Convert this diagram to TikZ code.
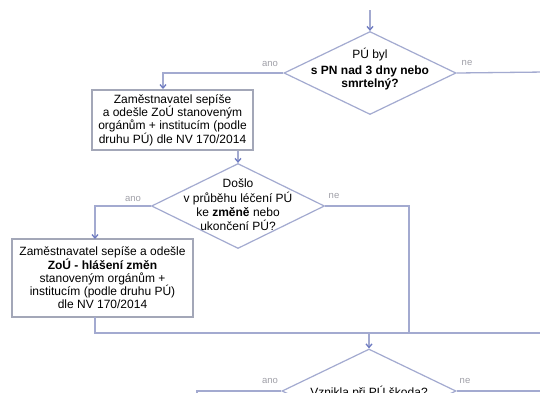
\documentclass[tikz,border=0pt]{standalone}
\usepackage{fontspec}
\setmainfont{Liberation Sans}
\usetikzlibrary{shapes.geometric,arrows.meta}
\definecolor{lineC}{HTML}{A3AAD0}
\definecolor{boxC}{HTML}{A3A7B8}
\definecolor{tipC}{HTML}{6D7AC2}
\definecolor{lblC}{HTML}{A0A0A8}
\begin{document}
\begin{tikzpicture}[x=1pt,y=-1pt,
  conn/.style={draw=lineC, line width=1.3pt},
  arr/.style={conn, -{Straight Barb[length=3.5pt,width=6pt,color=tipC]}},
  dia/.style={diamond, draw=lineC, line width=1.2pt, inner sep=0pt},
  pbox/.style={rectangle, draw=boxC, line width=1.2pt, inner sep=0pt, align=center},
  txt/.style={align=center, inner sep=0pt},
  lbl/.style={font=\fontsize{9.5}{10}\selectfont, text=lblC, inner sep=0pt}]
\useasboundingbox (0,0) rectangle (540,392);
\clip (0,0) rectangle (540,392);
\fill[white] (0,0) rectangle (540,392);

% decision 1
\node[dia, minimum width=172pt, minimum height=83pt] (d1) at (370,73) {};
\node[txt, font=\fontsize{12}{12.5}\selectfont] (t1) at (370,69)
  {PÚ byl\\[4pt] \textbf{s PN nad 3 dny nebo}\\ \textbf{smrtelný?}};

% box 1
\node[pbox, minimum width=161pt, minimum height=60pt, font=\fontsize{12}{12.4}\selectfont] (b1) at (172.5,120)
  {Zaměstnavatel sepíše\\ a odešle ZoÚ stanoveným\\ orgánům + institucím (podle\\ druhu PÚ) dle NV 170/2014};

% decision 2
\node[dia, minimum width=173pt, minimum height=85pt] (d2) at (238,206) {};
\node[txt, font=\fontsize{12}{14.3}\selectfont] (t2) at (238,205)
  {Došlo\\ v průběhu léčení PÚ\\ ke \textbf{změně} nebo\\ ukončení PÚ?};

% box 2
\node[pbox, minimum width=181pt, minimum height=78pt, font=\fontsize{12}{13}\selectfont] (b2) at (102.5,278)
  {Zaměstnavatel sepíše a odešle\\ \textbf{ZoÚ - hlášení změn}\\ stanoveným orgánům +\\ institucím (podle druhu PÚ)\\ dle NV 170/2014};

% decision 3
\node[dia, minimum width=174pt, minimum height=84pt] (d3) at (369,391) {};
\node[txt, anchor=base, font=\fontsize{12}{13}\selectfont] (t3) at (369,396) {Vznikla při PÚ škoda?};

% labels
\node[lbl] (l1a) at (270,64) {ano};
\node[lbl] (l1n) at (467,63) {ne};
\node[lbl] (l2a) at (133,199) {ano};
\node[lbl] (l2n) at (334,196) {ne};
\node[lbl] (l3a) at (270,381) {ano};
\node[lbl] (l3n) at (465,381) {ne};

% helper coordinates
\coordinate (top) at (370,10);
\coordinate (b1in) at (163,89);
\coordinate (e1) at (545,72);
\coordinate (b2in) at (95,239);
\coordinate (b2out) at (95,317);
\coordinate (m1) at (409,333);
\coordinate (eR) at (545,333);
\coordinate (e3l) at (197,400);
\coordinate (e3r) at (545,391);

% connectors
\draw[arr] (top) -- (d1.north);
\draw[arr] (d1.west) -| (b1in);
\draw[conn] (d1.east) -- (e1);
\draw[arr] (d2.north |- b1.south) -- (d2.north);
\draw[arr] (d2.west) -| (b2in);
\draw[conn] (d2.east) -| (m1);
\draw[conn] (b2out) |- (eR);
\draw[arr] (d3.north |- eR) -- (d3.north);
\draw[conn] (d3.west) -| (e3l);
\draw[conn] (d3.east) -- (e3r);
\end{tikzpicture}
\end{document}
